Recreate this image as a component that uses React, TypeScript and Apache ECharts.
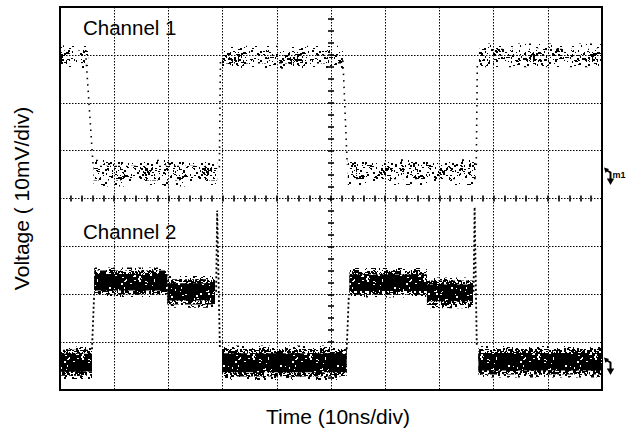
import React, { useEffect, useRef } from "react";
import * as echarts from "echarts";

const FONT = "'Liberation Sans', Arial, Helvetica, sans-serif";

// Axis ranges (time in ns relative to screen centre, voltage in mV)
const timeMin = -50;
const timeMax = 50;
const timeStep = 10;
const voltMin = -40;
const voltMax = 40;
const voltStep = 10;

const xTitle = "Time (10ns/div)";
const yTitle = "Voltage ( 10mV/div)";
const channelNames = ["Channel 1", "Channel 2"];

// Channel 1 flat (noisy) segments: start, end, mean level, half-width of noise
const ch1Start = [-50, -43.8, -20.1, 3.1, 27.3];
const ch1End = [-44.8, -21.0, 2.2, 26.7, 49.8];
const ch1Level = [29.6, 5.3, 29.5, 5.5, 29.9];
const ch1Spread = [2.4, 2.8, 2.4, 2.7, 2.5];

// Channel 2 flat (noisy) segments
const ch2Start = [-50, -43.7, -30.2, -20.1, 3.4, 17.7, 27.2];
const ch2End = [-44.1, -30.2, -21.4, 2.9, 17.7, 26.2, 50];
const ch2Level = [-34.3, -17.5, -19.5, -34.3, -17.6, -19.7, -34.1];
const ch2Spread = [3.4, 3.1, 3.3, 3.6, 3.1, 3.2, 3.3];

// Transitions (edges), as polylines
const ch1EdgeT = [[-45.2, -43.9], [-20.6, -20.4], [2.2, 3.0], [26.8, 27.0]];
const ch1EdgeV = [[29.3, 7.0], [6.5, 28.5], [28.8, 7.0], [7.0, 28.5]];
const ch2EdgeT = [[-44.1, -43.7], [-21.2, -21.0, -20.5], [2.9, 3.3], [26.3, 26.5, 26.9]];
const ch2EdgeV = [[-31.5, -20.0], [-19.5, -2.5, -31.5], [-31.5, -20.0], [-19.5, -1.8, -31.0]];

function makeTile(w: number, h: number, count: number, seed: number, dark: boolean) {
  const c = document.createElement("canvas");
  c.width = w;
  c.height = h;
  const ctx = c.getContext("2d")!;
  let s = seed;
  const rnd = () => {
    s = (s * 16807) % 2147483647;
    return s / 2147483647;
  };
  if (dark) {
    ctx.fillStyle = "#000";
    ctx.fillRect(0, 0, w, h);
    ctx.fillStyle = "#fff";
  } else {
    ctx.fillStyle = "#000";
  }
  for (let i = 0; i < count; i++) {
    const x = Math.floor(rnd() * w);
    const y = Math.floor(rnd() * h);
    const sw = rnd() < 0.55 ? 2 : 1;
    const sh = rnd() < 0.55 ? 2 : 1;
    ctx.fillRect(x, y, sw, sh);
  }
  return { image: c, repeat: "repeat", imageWidth: w, imageHeight: h };
}

export default function App() {
  const ref = useRef<HTMLDivElement>(null);

  useEffect(() => {
    if (!ref.current) return;
    const chart = echarts.init(ref.current, null, { renderer: "svg" });

    const p1Outer = makeTile(61, 43, 95, 11, false);
    const p1Core = makeTile(59, 41, 240, 23, false);
    const p2Outer = makeTile(61, 43, 230, 37, false);
    const p2Mid = makeTile(59, 41, 800, 51, false);
    const p2Core = makeTile(57, 39, 70, 73, true);

    const band = (layers: [number, any][]) => (params: any, api: any) => {
      const t0 = api.value(0);
      const t1 = api.value(1);
      const lv = api.value(2);
      const sp = api.value(3);
      return {
        type: "group",
        children: layers.map(([frac, fill]) => {
          const a = api.coord([t0, lv + sp * frac]);
          const b = api.coord([t1, lv - sp * frac]);
          return {
            type: "rect",
            shape: { x: a[0], y: a[1], width: b[0] - a[0], height: b[1] - a[1] },
            style: { fill },
          };
        }),
      };
    };

    const ch1Data = ch1Start.map((s, i) => [s, ch1End[i], ch1Level[i], ch1Spread[i]]);
    const ch2Data = ch2Start.map((s, i) => [s, ch2End[i], ch2Level[i], ch2Spread[i]]);

    const edgeSeries = (ts: number[][], vs: number[][], dash: number[], width: number) =>
      ts.map((t, k) => ({
        type: "line",
        data: t.map((x, j) => [x, vs[k][j]]),
        symbol: "none",
        silent: true,
        lineStyle: { color: "#000", width, type: dash },
        z: 3,
      }));

    const tickStyle = { color: "#000", width: 1.6 };
    const grid = { color: "#000", width: 1, type: [1.5, 1.5] };

    // half of the plot width, so that the centre y axes sit on the centre vertical line
    const halfWidth = (629 - 60 - 27) / 2;

    const centreX = (pos: string, extra: any) => ({
      type: "value",
      min: timeMin,
      max: timeMax,
      interval: timeStep,
      position: pos,
      axisLine: { show: false, onZero: true, ...extra },
      axisTick: { show: true, length: 3, lineStyle: tickStyle },
      minorTick: { show: true, splitNumber: 5, length: 3, lineStyle: tickStyle },
      axisLabel: { show: false },
      splitLine: { show: false },
    });
    const centreY = (pos: string) => ({
      type: "value",
      min: voltMin,
      max: voltMax,
      interval: voltStep,
      position: pos,
      offset: -halfWidth,
      axisLine: { show: false, onZero: false },
      axisTick: { show: true, length: 3, lineStyle: tickStyle },
      minorTick: { show: true, splitNumber: 4, length: 3, lineStyle: tickStyle },
      axisLabel: { show: false },
      splitLine: { show: false },
    });

    const marker = (dy: number, withLabel: boolean) => {
      const els: any[] = [
        {
          type: "polyline",
          shape: { points: [[606, 170 + dy], [610.5, 172.5 + dy], [610.5, 180 + dy]] },
          style: { stroke: "#000", lineWidth: 2, fill: null },
        },
        {
          type: "polygon",
          shape: { points: [[604, 167.5 + dy], [609, 169 + dy], [605.5, 173 + dy]] },
          style: { fill: "#000" },
        },
        {
          type: "polygon",
          shape: { points: [[606.8, 178.5 + dy], [614.2, 178.5 + dy], [610.5, 185 + dy]] },
          style: { fill: "#000" },
        },
      ];
      if (withLabel) {
        els.push({
          type: "text",
          x: 612.5,
          y: 175 + dy,
          style: {
            text: "m1",
            fontSize: 9,
            fontWeight: "bold",
            fontFamily: FONT,
            fill: "#000",
            align: "left",
            verticalAlign: "middle",
          },
        });
      }
      return els;
    };

    const option: any = {
      animation: false,
      backgroundColor: "#fff",
      textStyle: { fontFamily: FONT, color: "#000" },
      grid: {
        left: 60,
        right: 27,
        top: 7,
        bottom: 42,
        show: true,
        borderColor: "#000",
        borderWidth: 2,
        backgroundColor: "transparent",
      },
      xAxis: [
        {
          type: "value",
          min: timeMin,
          max: timeMax,
          interval: timeStep,
          position: "bottom",
          axisLine: { show: false, onZero: false },
          axisTick: { show: false },
          axisLabel: { show: false },
          splitLine: { show: true, lineStyle: grid },
          name: xTitle,
          nameLocation: "middle",
          nameGap: 16,
          nameTextStyle: { fontSize: 21, color: "#000", fontFamily: FONT, padding: [0, 0, 0, 14] },
        },
        centreX("bottom", {}),
        centreX("top", { onZeroAxisIndex: 0 }),
      ],
      yAxis: [
        {
          type: "value",
          min: voltMin,
          max: voltMax,
          interval: voltStep,
          position: "left",
          axisLine: { show: false, onZero: false },
          axisTick: { show: false },
          axisLabel: { show: false },
          splitLine: { show: true, lineStyle: grid },
          name: yTitle,
          nameLocation: "middle",
          nameGap: 28,
          nameTextStyle: { fontSize: 21, color: "#000", fontFamily: FONT },
        },
        centreY("left"),
        centreY("right"),
      ],
      graphic: [
        {
          type: "text",
          x: 83,
          y: 27,
          style: {
            text: channelNames[0],
            fontSize: 20.5,
            fontFamily: FONT,
            fill: "#000",
            align: "left",
            verticalAlign: "middle",
          },
        },
        {
          type: "text",
          x: 83,
          y: 231,
          style: {
            text: channelNames[1],
            fontSize: 20.5,
            fontFamily: FONT,
            fill: "#000",
            align: "left",
            verticalAlign: "middle",
          },
        },
        ...marker(0, true),
        ...marker(190, false),
      ],
      series: [
        {
          type: "custom",
          name: channelNames[0],
          data: ch1Data,
          encode: { x: [0, 1], y: [2] },
          renderItem: band([
            [1, p1Outer],
            [0.55, p1Core],
          ]),
          silent: true,
          z: 2,
        },
        {
          type: "custom",
          name: channelNames[1],
          data: ch2Data,
          encode: { x: [0, 1], y: [2] },
          renderItem: band([
            [1, p2Outer],
            [0.8, p2Mid],
            [0.55, p2Core],
          ]),
          silent: true,
          z: 2,
        },
        ...edgeSeries(ch1EdgeT, ch1EdgeV, [1.5, 5], 1.6),
        ...edgeSeries(ch2EdgeT, ch2EdgeV, [2, 2.5], 1.8),
      ],
    };

    chart.setOption(option);
    return () => chart.dispose();
  }, []);

  return (
    <div
      ref={ref}
      style={{ position: "fixed", left: 0, top: 0, width: 629, height: 432, background: "#fff" }}
    />
  );
}
